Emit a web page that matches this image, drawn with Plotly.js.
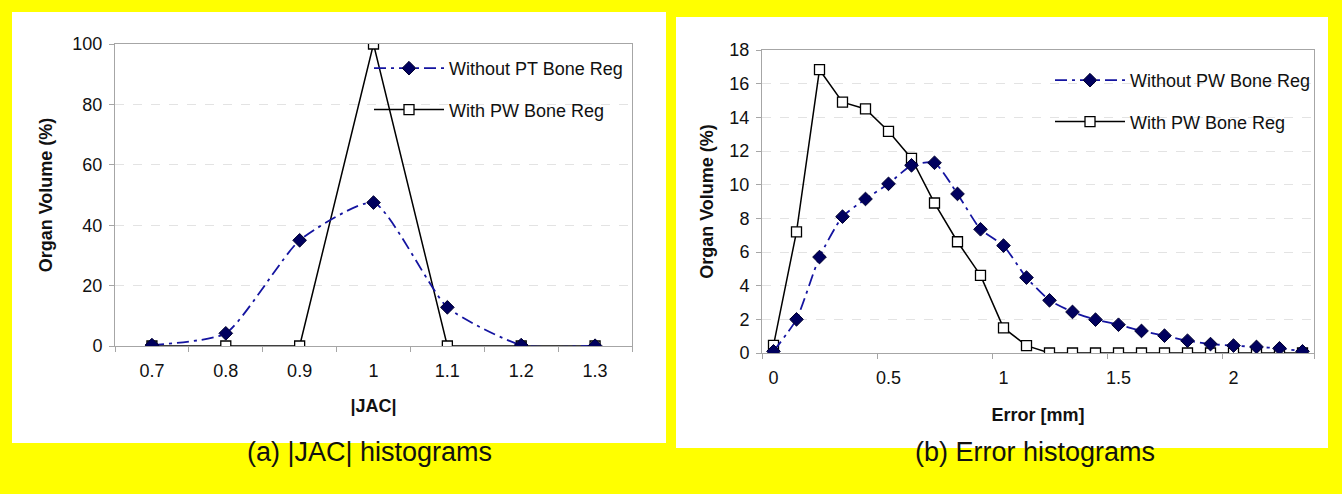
<!DOCTYPE html>
<html><head><meta charset="utf-8">
<script src="https://cdn.plot.ly/plotly-3.0.1.min.js"></script>
<style>html,body{margin:0;padding:0;background:#ffff00;}#chart{width:1342px;height:494px;}</style>
</head><body><div id="chart"></div>
<script>
// ---- data ----
const jacX = [0.7, 0.8, 0.9, 1.0, 1.1, 1.2, 1.3];
const jacTickText = ['0.7', '0.8', '0.9', '1', '1.1', '1.2', '1.3'];
const jacWithout = [0.3, 4.2, 35, 47.5, 12.8, 0.3, 0.1];
const jacWith = [0, 0, 0, 100, 0, 0, 0];

const errX = [0, 0.1, 0.2, 0.3, 0.4, 0.5, 0.6, 0.7, 0.8, 0.9, 1.0, 1.1, 1.2, 1.3, 1.4, 1.5, 1.6, 1.7, 1.8, 1.9, 2.0, 2.1, 2.2, 2.3];
const errWithout = [0.1, 2.0, 5.7, 8.1, 9.15, 10.05, 11.15, 11.3, 9.45, 7.35, 6.38, 4.48, 3.13, 2.44, 1.98, 1.68, 1.31, 1.03, 0.73, 0.53, 0.44, 0.36, 0.28, 0.1];
const errWith = [0.45, 7.2, 16.83, 14.9, 14.5, 13.17, 11.56, 8.91, 6.61, 4.61, 1.49, 0.44, 0, 0, 0, 0, 0, 0, 0, 0, 0, 0, 0, 0];
const errTickVals = [0, 0.5, 1, 1.5, 2];
const errTickText = ['0', '0.5', '1', '1.5', '2'];

const nameWithoutA = 'Without PT Bone Reg';
const nameWithoutB = 'Without PW Bone Reg';
const nameWith = 'With PW Bone Reg';
const captionA = '(a) |JAC| histograms';
const captionB = '(b) Error histograms';

// ---- layout helpers ----
const W = 1342, H = 494;
const px = v => v / W;
const py = v => 1 - v / H;
const FONT = 'Liberation Sans, Arial, sans-serif';
const AXC = '#a6a6a6';
const GRID = '#e3e3e3';

const blueLine = {color: '#1414a0', width: 1.8, dash: '12px,5px,3px,5px', shape: 'spline', smoothing: 0.55};
const blueMarker = {symbol: 'diamond', size: 10.5, color: '#00005e', line: {color: '#000030', width: 1}};
const blackLine = {color: '#000000', width: 1.5};
const blackMarker = {symbol: 'square', size: 10, color: '#ffffff', line: {color: '#000000', width: 1.3}};

const traces = [
  {x: jacX, y: jacWith, xaxis: 'x', yaxis: 'y', mode: 'lines+markers', name: nameWith,
   line: blackLine, marker: blackMarker, legend: 'legend', legendgroup: 'a2', legendrank: 2},
  {x: jacX, y: jacWithout, xaxis: 'x', yaxis: 'y', mode: 'lines+markers', name: nameWithoutA,
   line: blueLine, marker: blueMarker, legend: 'legend', legendgroup: 'a1', legendrank: 1},
  {x: errX, y: errWith, xaxis: 'x2', yaxis: 'y2', mode: 'lines+markers', name: nameWith,
   line: blackLine, marker: blackMarker, legend: 'legend2', legendgroup: 'b2', legendrank: 2},
  {x: errX, y: errWithout, xaxis: 'x2', yaxis: 'y2', mode: 'lines+markers', name: nameWithoutB,
   line: blueLine, marker: blueMarker, legend: 'legend2', legendgroup: 'b1', legendrank: 1}
];

const commonX = {
  showline: true, linecolor: AXC, linewidth: 1, mirror: true, showgrid: false, zeroline: false,
  ticks: '', tickfont: {family: FONT, size: 18, color: '#111'}, fixedrange: true
};
const commonY = {
  showline: true, linecolor: AXC, linewidth: 1, mirror: true, zeroline: false,
  ticks: 'outside', ticklen: 5, tickcolor: AXC, showgrid: true, gridcolor: GRID, griddash: 'dash',
  tickfont: {family: FONT, size: 18, color: '#111'}, fixedrange: true, ticklabelstandoff: 3
};
const titleFont = {family: FONT, size: 18, color: '#111', weight: 'bold'};

const layout = {
  width: W, height: H,
  margin: {l: 0, r: 0, t: 0, b: 0},
  paper_bgcolor: '#ffff00', plot_bgcolor: '#ffffff',
  font: {family: FONT, color: '#111'},
  xaxis: Object.assign({}, commonX, {
    domain: [px(115), px(632)], anchor: 'y', range: [0.65, 1.35],
    tickvals: jacX, ticktext: jacTickText,
    minor: {tickvals: [0.65, 0.75, 0.85, 0.95, 1.05, 1.15, 1.25, 1.35], ticks: 'outside', ticklen: 5, tickcolor: AXC, showgrid: false},
    ticklabelstandoff: 8,
    title: {text: '|JAC|', font: titleFont, standoff: 19}
  }),
  yaxis: Object.assign({}, commonY, {
    domain: [py(346), py(44)], anchor: 'x', range: [0, 100],
    tickvals: [0, 20, 40, 60, 80, 100],
    title: {text: 'Organ Volume (%)', font: titleFont, standoff: 15}
  }),
  xaxis2: Object.assign({}, commonX, {
    domain: [px(762), px(1314)], anchor: 'y2', range: [-0.05, 2.35],
    tickvals: errTickVals, ticktext: errTickText,
    minor: {tickvals: [-0.05, 0.45, 0.95, 1.45, 1.95, 2.35], ticks: 'outside', ticklen: 5, tickcolor: AXC, showgrid: false},
    ticklabelstandoff: 8,
    title: {text: 'Error [mm]', font: titleFont, standoff: 21}
  }),
  yaxis2: Object.assign({}, commonY, {
    domain: [py(353), py(50)], anchor: 'x2', range: [0, 18],
    tickvals: [0, 2, 4, 6, 8, 10, 12, 14, 16, 18],
    title: {text: 'Organ Volume (%)', font: titleFont, standoff: 11}
  }),
  legend: {x: px(369), y: py(50), xanchor: 'left', yanchor: 'top', bgcolor: 'rgba(0,0,0,0)',
    font: {family: FONT, size: 18, color: '#111'}, itemwidth: 70, tracegroupgap: 15, traceorder: 'grouped'},
  legend2: {x: px(1050), y: py(62), xanchor: 'left', yanchor: 'top', bgcolor: 'rgba(0,0,0,0)',
    font: {family: FONT, size: 18, color: '#111'}, itemwidth: 70, tracegroupgap: 15, traceorder: 'grouped'},
  shapes: [
    {type: 'rect', xref: 'paper', yref: 'paper', x0: px(12), x1: px(666), y0: py(443), y1: py(12),
     fillcolor: '#ffffff', line: {width: 0}, layer: 'below'},
    {type: 'rect', xref: 'paper', yref: 'paper', x0: px(676), x1: px(1328), y0: py(448), y1: py(17),
     fillcolor: '#ffffff', line: {width: 0}, layer: 'below'}
  ],
  annotations: [
    {text: captionA, xref: 'paper', yref: 'paper', x: px(370), y: py(452), xanchor: 'center', yanchor: 'middle',
     showarrow: false, font: {family: FONT, size: 27, color: '#111'}},
    {text: captionB, xref: 'paper', yref: 'paper', x: px(1035), y: py(452), xanchor: 'center', yanchor: 'middle',
     showarrow: false, font: {family: FONT, size: 27, color: '#111'}}
  ]
};

Plotly.newPlot('chart', traces, layout, {displayModeBar: false, staticPlot: true});
</script>
</body></html>
